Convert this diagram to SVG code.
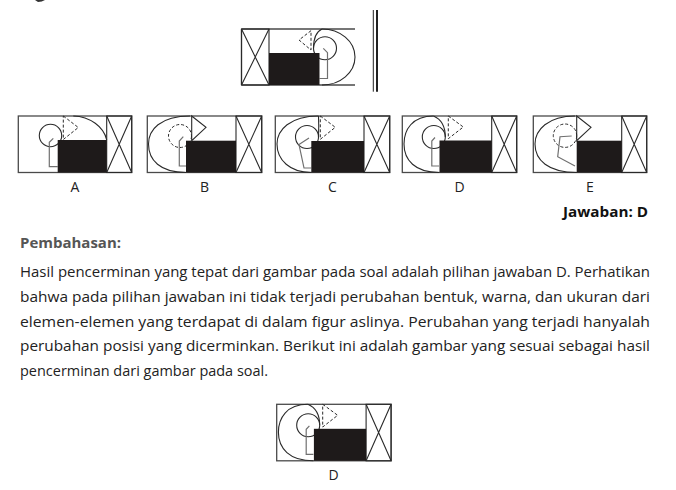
<svg xmlns="http://www.w3.org/2000/svg" xmlns:xlink="http://www.w3.org/1999/xlink" width="676" height="490" viewBox="0 0 676 490">
<style>
.ln{fill:none;stroke:#2a2a2a;stroke-width:1.1}
.fr{fill:none;stroke:#4a4a4a;stroke-width:1.3}
.ds{fill:none;stroke:#2a2a2a;stroke-width:1;stroke-dasharray:3 2}
.pt{fill:none;stroke:#707070;stroke-width:1.2}
.bk{fill:#1e1a1a}
.lb{font-family:"Open Sans","Liberation Sans",sans-serif;font-size:14px;fill:#222;text-anchor:middle}
.bd{font-family:"Open Sans","Liberation Sans",sans-serif;font-size:14.5px;font-weight:bold}
.tx{font-family:"Open Sans","Liberation Sans",sans-serif;font-size:15px;fill:#222}
</style>
<defs>
<g id="figD">
 <rect class="fr" x="402.3" y="116" width="114.4" height="56.5"/>
 <rect class="ln" x="491.7" y="116" width="25" height="56.5"/>
 <path class="ln" d="M491.7,116 L516.7,172.5 M516.7,116 L491.7,172.5"/>
 <path class="ln" d="M433.5,116 C412,116 404,130 404,144 C404,160 415,172.5 439,172.5"/>
 <path class="ln" d="M433.5,116 Q445.3,121 445.3,137"/>
 <circle class="ln" cx="433.8" cy="137" r="11.5"/>
 <path class="pt" d="M435,137.5 L431.8,141 V166 H439"/>
 <rect class="bk" x="439.5" y="140.5" width="52.2" height="32"/>
 <path class="ds" d="M448.3,116 L463.3,127 L448.3,138.7 Z"/>
</g>
</defs>
<rect width="676" height="490" fill="#fff"/>
<path d="M35,0 H45 Q42,2 38,2 Z" fill="#333"/>

<g id="question">
 <path class="fr" d="M241.5,29 H355 M241.5,85 H355 M241.5,29 V85"/>
 <rect class="ln" x="241.5" y="29" width="27.5" height="56"/>
 <path class="ln" d="M241.5,29 L269,85 M269,29 L241.5,85"/>
 <path class="ln" d="M322,29 A33,28 0 0 1 322,85"/>
 <path class="ln" d="M322,29 Q313.5,33 313.5,48.3"/>
 <circle class="ln" cx="325" cy="48.3" r="11.5"/>
 <path class="pt" d="M323.3,48.3 L327.5,52.7 V78.5 H319.5"/>
 <rect class="bk" x="269" y="53" width="50.5" height="32"/>
 <path class="ds" d="M311,30.7 L299,40 L311,50 Z"/>
 <line x1="373.3" y1="10" x2="373.3" y2="91.7" stroke="#222" stroke-width="1"/>
 <line x1="377" y1="10" x2="377" y2="91.7" stroke="#222" stroke-width="2"/>
</g>

<g id="optA">
 <rect class="fr" x="18.3" y="116" width="113.4" height="56.5"/>
 <rect class="ln" x="106.7" y="116" width="25" height="56.5"/>
 <path class="ln" d="M106.7,116 L131.7,172.5 M131.7,116 L106.7,172.5"/>
 <path class="ln" d="M73.3,116 C90,116.5 104,127 106.7,140"/>
 <circle class="ln" cx="50.5" cy="135.5" r="11.2"/>
 <path class="pt" d="M53.3,138.3 L49.3,142.3 V166.7 H57.7"/>
 <rect class="bk" x="57.7" y="140" width="49" height="32.5"/>
 <path class="ds" d="M63.3,116 L78.3,127.5 L63.3,139.5 Z"/>
 <text class="lb" x="75" y="192">A</text>
</g>

<g id="optB">
 <rect class="fr" x="147.3" y="116" width="114.4" height="56.5"/>
 <rect class="ln" x="236" y="116" width="25.7" height="56.5"/>
 <path class="ln" d="M236,116 L261.7,172.5 M261.7,116 L236,172.5"/>
 <path class="ln" d="M190,116 C160,116 148.5,130 148.5,144 C148.5,160 160,172.5 186,172.5"/>
 <circle class="ds" cx="180" cy="136" r="11.5"/>
 <path class="pt" d="M183.3,136.7 L179.3,141 V166 H186"/>
 <rect class="bk" x="186" y="140.7" width="50" height="31.8"/>
 <path class="ln" d="M191.7,116 L206,127.3 L191.7,140.7 Z"/>
 <text class="lb" x="204.5" y="192">B</text>
</g>

<g id="optC">
 <rect class="fr" x="275.3" y="116" width="114.4" height="56.5"/>
 <rect class="ln" x="364" y="116" width="25.7" height="56.5"/>
 <path class="ln" d="M364,116 L389.7,172.5 M389.7,116 L364,172.5"/>
 <path class="ln" d="M318.5,116 C290,116 277,130 277,144 C277,160 290,172.5 311.3,172.5"/>
 <path class="ln" d="M318.5,116 Q319,126 318.5,137"/>
 <circle class="ln" cx="307" cy="137" r="11.5"/>
 <path class="pt" d="M309,138 L299,144.5 L304,168 H311.3"/>
 <rect class="bk" x="311.3" y="141" width="52.7" height="31.5"/>
 <path class="ds" d="M320.3,116 L335.3,127.3 L320.3,139.3 Z"/>
 <text class="lb" x="332.5" y="192">C</text>
</g>

<g id="optD">
 <use xlink:href="#figD" href="#figD"/>
 <text class="lb" x="459.5" y="192">D</text>
</g>

<g id="optE">
 <rect class="fr" x="533.3" y="116" width="113.4" height="56.5"/>
 <rect class="ln" x="621.7" y="116" width="25" height="56.5"/>
 <path class="ln" d="M621.7,116 L646.7,172.5 M646.7,116 L621.7,172.5"/>
 <path class="ln" d="M575,116 C548,116 535,130 535,144 C535,160 548,172.5 576.7,172.5"/>
 <circle class="ds" cx="565" cy="135.7" r="11.7"/>
 <path class="pt" d="M571.7,136 L560,136.7 L557.7,156.7 L575,166"/>
 <rect class="bk" x="576.7" y="140.7" width="45" height="31.8"/>
 <path class="ln" d="M576.7,116 L591,127.3 L576.7,140.7 Z"/>
 <text class="lb" x="590" y="192">E</text>
</g>

<g id="texts">
 <text class="bd" x="648" y="217" text-anchor="end" fill="#111" textLength="85" lengthAdjust="spacingAndGlyphs">Jawaban: D</text>
 <text class="bd" x="20" y="248" fill="#555" textLength="101" lengthAdjust="spacingAndGlyphs">Pembahasan:</text>
 <text class="tx" x="20" y="277" textLength="630" lengthAdjust="spacingAndGlyphs">Hasil pencerminan yang tepat dari gambar pada soal adalah pilihan jawaban D. Perhatikan</text>
 <text class="tx" x="20" y="302" textLength="630" lengthAdjust="spacingAndGlyphs">bahwa pada pilihan jawaban ini tidak terjadi perubahan bentuk, warna, dan ukuran dari</text>
 <text class="tx" x="20" y="327" textLength="630" lengthAdjust="spacingAndGlyphs">elemen-elemen yang terdapat di dalam figur aslinya. Perubahan yang terjadi hanyalah</text>
 <text class="tx" x="20" y="351" textLength="630" lengthAdjust="spacingAndGlyphs">perubahan posisi yang dicerminkan. Berikut ini adalah gambar yang sesuai sebagai hasil</text>
 <text class="tx" x="20" y="376" textLength="248" lengthAdjust="spacingAndGlyphs">pencerminan dari gambar pada soal.</text>
</g>

<g id="answerD">
 <use xlink:href="#figD" href="#figD" transform="translate(-125.6,288.3)"/>
 <text class="lb" x="333.5" y="480">D</text>
</g>
</svg>
